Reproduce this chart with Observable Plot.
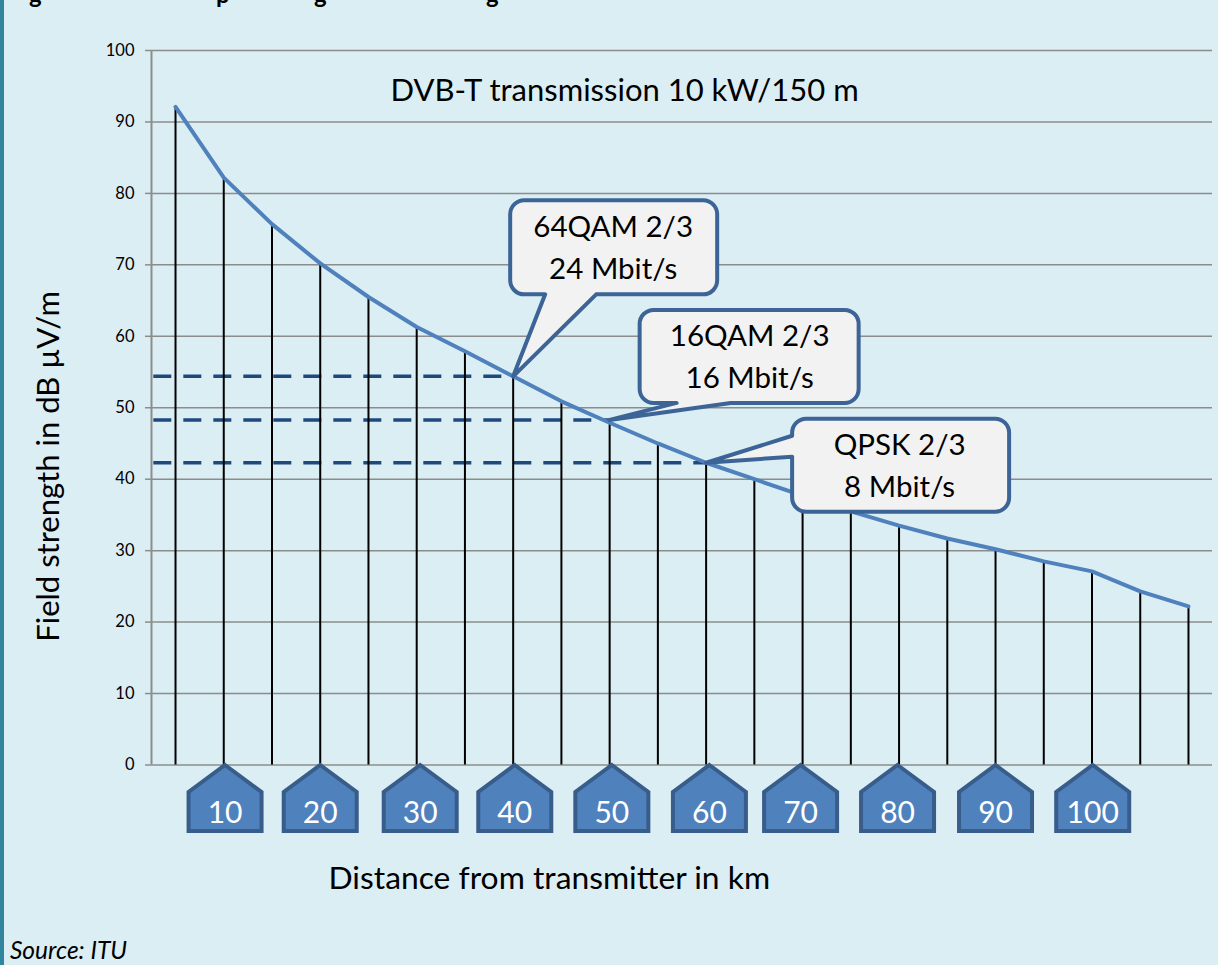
<!DOCTYPE html>
<html><head><meta charset="utf-8">
<script src="https://cdn.jsdelivr.net/npm/d3@7"></script>
<script src="https://cdn.jsdelivr.net/npm/@observablehq/plot@0.6"></script>
<style>
html,body{margin:0;padding:0;width:1218px;height:965px;overflow:hidden;background:#dbeef4;font-family:Lato,sans-serif}
#bar{position:absolute;left:0;top:0;width:4px;height:965px;background:#31859c}
#chart{position:absolute;left:0;top:0}
#src{position:absolute;left:10px;top:935px;font-size:24.5px;font-style:italic;color:#000}
.frag{position:absolute;top:-19px;font-size:24px;font-weight:700;color:#000;line-height:26px}
</style></head><body>
<div id="bar"></div>
<div class="frag" style="left:29px">g</div><div class="frag" style="left:216px">p</div><div class="frag" style="left:314px">g</div><div class="frag" style="left:486px">g</div>
<div id="chart"></div>
<div id="src">Source: ITU</div>
<script>
const distanceKm = [5,10,15,20,25,30,35,40,45,50,55,60,65,70,75,80,85,90,95,100,105,110];
const fieldStrength = [92.1,82.2,75.7,70.2,65.5,61.3,57.9,54.4,50.9,47.9,45,42.3,40,37.7,35.5,33.5,31.7,30.2,28.5,27.1,24.3,22.2];
const yTicks = [0,10,20,30,40,50,60,70,80,90,100];
const houseKm = [10,20,30,40,50,60,70,80,90,100];
const houseShift = [1.3,0,3.5,1.6,2.2,3.3,-2,-1.5,0,0.7];
const modeNames = ["64QAM 2/3\n24 Mbit/s","16QAM 2/3\n16 Mbit/s","QPSK 2/3\n8 Mbit/s"];
const modeKm = [40,50,60];
const modeLevel = [54.4,48.3,42.3];

const houseSymbol = {draw(c){ // tip at origin
  c.moveTo(0,0);c.lineTo(36.5,27);c.lineTo(36.5,66);c.lineTo(-36.5,66);c.lineTo(-36.5,27);c.closePath();
}};
function calloutSymbol(l,t,r,b,ptr){ // box relative to the pointer tip at the origin
  const R=14;
  return {draw(c){
    c.moveTo(l+R,t);
    c.arcTo(r,t,r,b,R);
    c.arcTo(r,b,l,b,R);
    if(ptr.side==="bottom"){c.lineTo(ptr.a,b);c.lineTo(0,0);c.lineTo(ptr.b,b);}
    c.arcTo(l,b,l,t,R);
    if(ptr.side==="left"){c.lineTo(l,ptr.a);c.lineTo(0,0);c.lineTo(l,ptr.b);}
    c.arcTo(l,t,r,t,R);
    c.closePath();
  }};
}
const callouts = [
  {sym:calloutSymbol(-3,-176,204,-82,{side:"bottom",a:83,b:32}), dx:100, dy:-131.5},
  {sym:calloutSymbol(30,-110,249,-17,{side:"bottom",a:121,b:67}), dx:140, dy:-66},
  {sym:calloutSymbol(86,-44,303,49,{side:"left",a:-6,b:-27}), dx:193.5, dy:-0.5}
];

const line = distanceKm.map((d,i)=>({d,v:fieldStrength[i]}));
const ink="#000", grid="#8c8c8c", dash="#1f497d", edge="#3c6496";
const calloutMarks = modeKm.flatMap((km,i)=>[
  Plot.dot([{km,v:modeLevel[i],t:modeNames[i]}],{x:"km",y:"v",symbol:callouts[i].sym,fill:"#f2f2f2",stroke:edge,strokeWidth:4,strokeLinejoin:"round"}),
  Plot.text([{km,v:modeLevel[i],t:modeNames[i]}],{x:"km",y:"v",text:"t",dx:callouts[i].dx,dy:callouts[i].dy,fontSize:29.5,lineHeight:1.42,fill:"#000"})
]);
const houseMarks = houseKm.flatMap((km,i)=>[
  Plot.dot([km],{x:d=>d,y:()=>0,dx:houseShift[i],dy:0,symbol:houseSymbol,fill:"#4f81bd",stroke:"#385d8a",strokeWidth:4,strokeLinejoin:"miter"}),
  Plot.text([km],{x:d=>d,y:()=>0,text:d=>String(d),dx:houseShift[i],dy:48,fontSize:30,fill:"#fff"})
]);

const chart = Plot.plot({
  width:1218,height:965,
  marginLeft:151,marginRight:6,marginTop:50,marginBottom:200.5,
  style:{background:"transparent",fontFamily:"Lato, sans-serif",overflow:"visible"},
  x:{domain:[2.51,112.49],axis:null},
  y:{domain:[0,100],axis:null},
  marks:[
    Plot.gridY(yTicks,{stroke:grid,strokeOpacity:1,strokeWidth:1.5}),
    Plot.ruleX([2.51],{stroke:grid,strokeWidth:2}),
    Plot.axisY(yTicks,{tickSize:6,tickPadding:11,stroke:grid,strokeWidth:1.5,fontSize:16.5,color:"#000",tickFormat:d=>String(d),label:null}),
    ...modeKm.map((km,i)=>Plot.ruleY([modeLevel[i]],{x1:2.75,x2:km,stroke:dash,strokeWidth:3.5,strokeDasharray:"18,12"})),
    Plot.ruleX(line,{x:"d",y1:0,y2:"v",stroke:ink,strokeWidth:2}),
    Plot.line(line,{x:"d",y:"v",stroke:"#4f81bd",strokeWidth:4}),
    ...calloutMarks,
    ...houseMarks,
    Plot.text(["DVB-T transmission 10 kW/150 m"],{frameAnchor:"top-left",dx:239,dy:28,fontSize:31,fill:"#000"}),
    Plot.text(["Distance from transmitter in km"],{frameAnchor:"bottom-left",dx:177,dy:124,fontSize:31.8,fill:"#000"}),
    Plot.text(["Field strength in dB µV/m"],{frameAnchor:"left",rotate:-90,dx:-102,dy:234,fontSize:31,fill:"#000"})
  ]
});
document.getElementById("chart").append(chart);
</script>
</body></html>
